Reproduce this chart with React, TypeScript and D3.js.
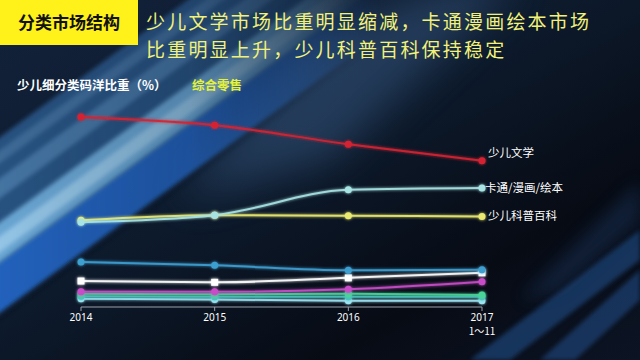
import React from "react";
import * as d3 from "d3";

const years = ["2014", "2015", "2016", "2017"];
const yearSub = ["", "", "", "1～11"];
const seriesNames = ["少儿文学", "卡通/漫画/绘本", "少儿科普百科", "s4", "s5", "s6", "s7", "s8", "s9"];
const literature = [30.0, 28.7, 25.7, 23.1];
const cartoon = [13.4, 14.5, 18.5, 18.8];
const science = [13.7, 14.5, 14.4, 14.3];
const s4 = [7.1, 6.6, 5.8, 5.9];
const s5 = [4.1, 3.9, 4.6, 5.4];
const s6 = [2.4, 2.4, 2.8, 4.0];
const s7 = [2.1, 2.0, 2.1, 1.9];
const s8 = [1.7, 1.6, 1.6, 1.6];
const s9 = [1.3, 1.2, 1.0, 1.0];
const allSeries = [literature, cartoon, science, s4, s5, s6, s7, s8, s9];

const colors = ["#d42432", "#a8e4e4", "#eaea70", "#3d9fd0", "#ffffff", "#c84cc8", "#48d498", "#4cc0c0", "#a0e4f4"];
const shapes = ["c", "c", "c", "c", "s", "c", "c", "c", "c"];
const labelOffsets = [-8, 0, 0];
const labelDx = [6, 3, 6];

const FONT = "'Noto Sans CJK SC', 'Noto Sans', sans-serif";

// diagonal band helper: band between y0 and y1 at x=0, slope -0.73
function band(y0: number, y1: number) {
  const s = -0.73;
  const xa = -40;
  const xb = 460;
  return `${xa},${y0 + s * xa} ${xb},${y0 + s * xb} ${xb},${y1 + s * xb} ${xa},${y1 + s * xa}`;
}

export default function App() {
  const x = d3.scalePoint<string>().domain(years).range([81, 482]);
  const y = d3.scaleLinear().domain([0, 30]).range([307, 117]);
  const line = d3
    .line<number>()
    .x((_, i) => x(years[i]) as number)
    .y((d) => y(d))
    .curve(d3.curveMonotoneX);

  const order = [8, 7, 6, 5, 4, 3, 2, 1, 0];

  return (
    <svg
      width={640}
      height={360}
      style={{ position: "absolute", left: 0, top: 0, fontFamily: FONT }}
    >
      <defs>
        <linearGradient id="bg" x1="0" y1="0" x2="1" y2="1">
          <stop offset="0" stopColor="#12223a" />
          <stop offset="0.45" stopColor="#0d1a2c" />
          <stop offset="0.75" stopColor="#070b14" />
          <stop offset="1" stopColor="#0c1424" />
        </linearGradient>
        <linearGradient id="fade" gradientUnits="userSpaceOnUse" x1="0" y1="0" x2="380" y2="0">
          <stop offset="0" stopColor="#fff" stopOpacity={1} />
          <stop offset="0.5" stopColor="#fff" stopOpacity={0.75} />
          <stop offset="1" stopColor="#fff" stopOpacity={0} />
        </linearGradient>
        <mask id="bandMask" maskUnits="userSpaceOnUse" x="0" y="0" width="640" height="360">
          <rect width={640} height={360} fill="url(#fade)" />
        </mask>
        <filter id="blur8" x="-50%" y="-50%" width="200%" height="200%">
          <feGaussianBlur stdDeviation="8" />
        </filter>
        <filter id="blur2" x="-50%" y="-50%" width="200%" height="200%">
          <feGaussianBlur stdDeviation="2" />
        </filter>
        <filter id="blur20" x="-50%" y="-50%" width="200%" height="200%">
          <feGaussianBlur stdDeviation="20" />
        </filter>
        <filter id="glow" x="-20%" y="-50%" width="140%" height="200%">
          <feGaussianBlur stdDeviation="1.5" result="b" />
          <feMerge>
            <feMergeNode in="b" />
            <feMergeNode in="SourceGraphic" />
          </feMerge>
        </filter>
      </defs>
      <rect width={640} height={360} fill="url(#bg)" />
      {/* soft light glow upper middle */}
      <polygon points="180,200 300,40 470,-20 520,-20 330,160" fill="#3e6490" opacity={0.45} filter="url(#blur20)" />
      {/* bottom-left diagonal band */}
      <g mask="url(#bandMask)">
        <polygon points={band(137, 313)} fill="#2f5e94" opacity={0.8} filter="url(#blur2)" />
        <polygon points={band(262, 313)} fill="#2264c0" opacity={0.95} filter="url(#blur2)" />
        <polygon points={band(222, 262)} fill="#7cbce8" opacity={0.8} filter="url(#blur2)" />
        <polygon points={band(236, 252)} fill="#b8e0f6" opacity={0.55} filter="url(#blur2)" />
        <polygon points={band(178, 198)} fill="#6a9ecc" opacity={0.45} filter="url(#blur2)" />
        <polygon points={band(150, 163)} fill="#6a98c2" opacity={0.35} filter="url(#blur2)" />
        <polygon points={band(313, 318)} fill="#0a1424" opacity={0.7} filter="url(#blur2)" />
      </g>
      {/* bottom-right streaks */}
      <polygon points="640,230 640,260 510,360 470,360" fill="#1e4478" opacity={0.7} filter="url(#blur2)" />
      <polygon points="640,270 640,300 575,360 540,360" fill="#24508c" opacity={0.55} filter="url(#blur2)" />
      <polygon points="640,180 640,220 560,290 520,300" fill="#1a3a66" opacity={0.4} filter="url(#blur8)" />
      {/* header */}
      <rect x={0} y={0} width={138} height={45} fill="#fff21a" />
      <text x={69} y={29} textAnchor="middle" fontSize={17} fontWeight={700} fill="#111">
        分类市场结构
      </text>
      <text x={146} y={29} fontSize={19} letterSpacing={2.2} fill="#f2f27a">
        少儿文学市场比重明显缩减，卡通漫画绘本市场
      </text>
      <text x={146} y={56.5} fontSize={19} letterSpacing={2.2} fill="#f2f27a">
        比重明显上升，少儿科普百科保持稳定
      </text>
      <text x={17} y={90} fontSize={12.5} fontWeight={700} fill="#ffffff">
        少儿细分类码洋比重（%）
      </text>
      <text x={192} y={90} fontSize={12.5} fontWeight={700} fill="#e4f23c">
        综合零售
      </text>

      {/* axis */}
      <line x1={x(years[0])} x2={x(years[3])} y1={307} y2={307} stroke="#9aa0a8" strokeWidth={1} />
      {years.map((yr, i) => (
        <g key={yr}>
          <line x1={x(yr)} x2={x(yr)} y1={307} y2={311} stroke="#9aa0a8" />
          <text x={x(yr)} y={321} textAnchor="middle" fontSize={10} fill="#ffffff" fontFamily="'Noto Sans', sans-serif">
            {yr}
          </text>
          {yearSub[i] && (
            <text x={x(yr)} y={335} textAnchor="middle" fontSize={10} fill="#ffffff">
              {yearSub[i]}
            </text>
          )}
        </g>
      ))}

      {/* lines */}
      {order.map((si) => {
        const data = allSeries[si];
        const c = colors[si];
        return (
          <g key={si} filter="url(#glow)">
            <path d={line(data) || ""} fill="none" stroke={c} strokeWidth={si === 0 ? 1.8 : 2} opacity={0.9} />
            {data.map((v, i) =>
              shapes[si] === "s" ? (
                <rect key={i} x={(x(years[i]) as number) - 3.5} y={y(v) - 3.5} width={7} height={7} fill={c} />
              ) : (
                <circle key={i} cx={x(years[i])} cy={y(v)} r={3.5} fill={c} />
              )
            )}
          </g>
        );
      })}

      {/* labels */}
      {[0, 1, 2].map((si) => {
        const data = allSeries[si];
        return (
          <text
            key={si}
            x={(x(years[3]) as number) + labelDx[si]}
            y={y(data[3]) + labelOffsets[si] + 4}
            fontSize={11.5}
            fill="#ffffff"
          >
            {seriesNames[si]}
          </text>
        );
      })}
    </svg>
  );
}
